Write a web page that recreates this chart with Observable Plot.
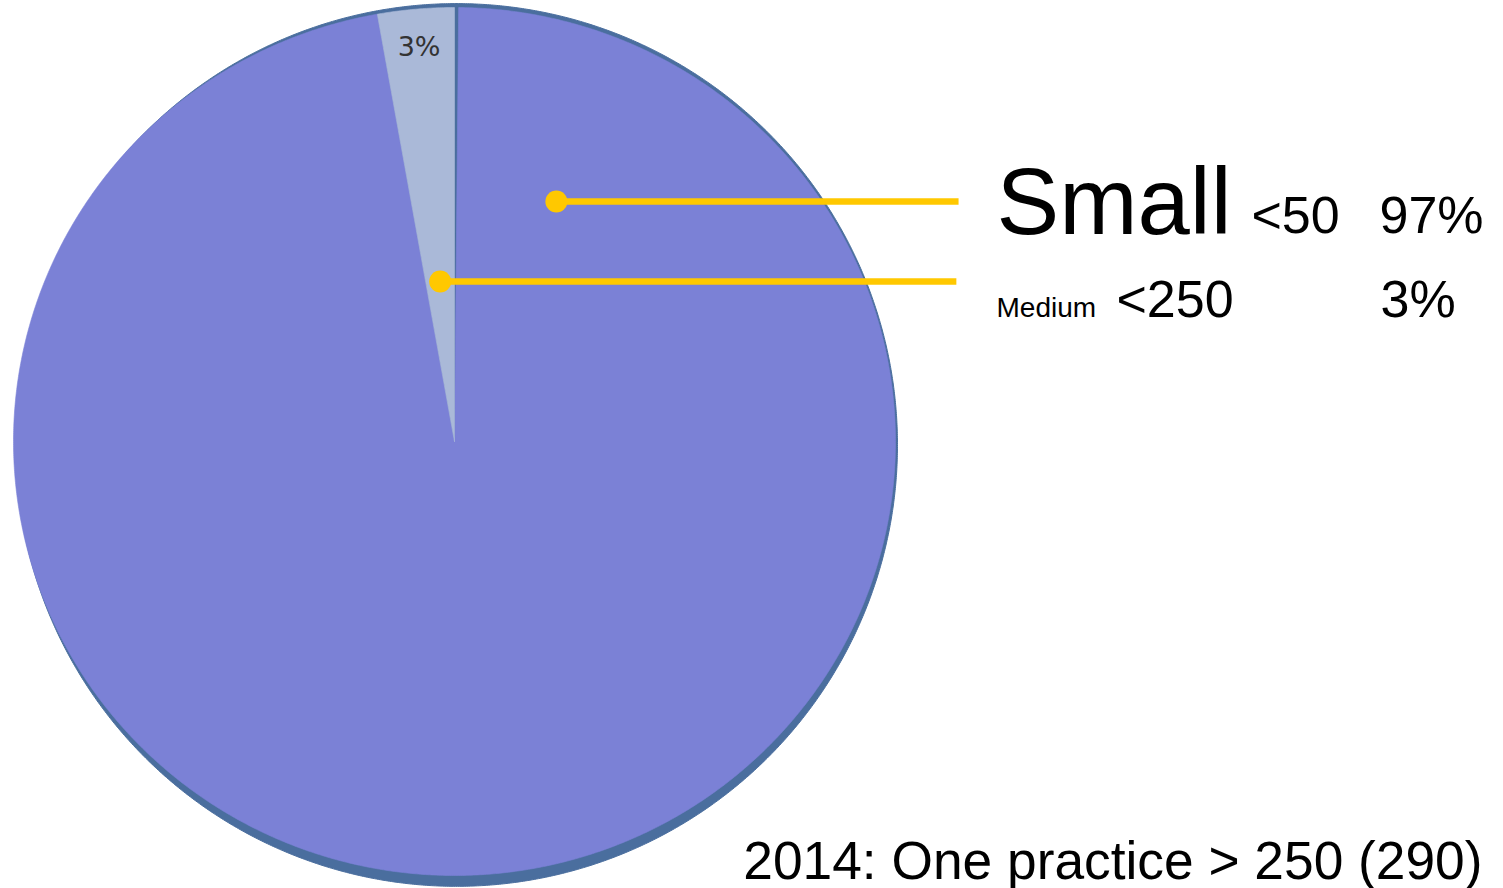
<!DOCTYPE html>
<html>
<head>
<meta charset="utf-8">
<script src="https://cdn.jsdelivr.net/npm/d3@7"></script>
<script src="https://cdn.jsdelivr.net/npm/@observablehq/plot@0.6"></script>
<style>
  html, body { margin: 0; padding: 0; background: #fff; }
  #chart svg { display: block; }
</style>
</head>
<body>
<div id="chart"></div>
<script>
// ---- data ----
const categories = ["Large", "Small", "Medium"];
const shares = [0.15, 97.05, 2.8];          // percent of practices
const sizeLabels = ["", "<50", "<250"];
const pctLabels = ["", "97%", "3%"];
const caption = "2014: One practice > 250 (290)";

const colors = { Large: "#4a6e9e", Small: "#7b81d6", Medium: "#aab9d8" };
const edgeColor = "#4a6e9e";
const leaderColor = "#ffc800";

// ---- pie geometry from data ----
const slices = d3.pie().sort(null).startAngle(0).endAngle(2 * Math.PI)(shares)
  .map((s, i) => ({ ...s, name: categories[i] }));

function arcPoints(a0, a1, r = 1, ox = 0, oy = 0, sx = 1, sy = 1, withCenter = true) {
  const pts = [];
  if (withCenter) pts.push([ox, oy]);
  const n = Math.max(2, Math.ceil((a1 - a0) / 0.005));
  for (let k = 0; k <= n; k++) {
    const a = a0 + (a1 - a0) * k / n;
    pts.push([ox + sx * r * Math.sin(a), oy + sy * r * Math.cos(a)]);
  }
  if (withCenter) pts.push([ox, oy]);
  return pts;
}

const edge = arcPoints(0, 2 * Math.PI, 1, 0.0045, -0.008, 1.0, 1.017, false);

const sliceMarks = slices.map(s =>
  Plot.line(arcPoints(s.startAngle, s.endAngle), {
    x: d => d[0], y: d => d[1],
    fill: colors[s.name], stroke: colors[s.name], strokeWidth: 0.6, curve: "linear"
  })
);

const medium = slices.find(s => s.name === "Medium");
const mMid = (medium.startAngle + medium.endAngle) / 2;
const mediumDot = { x: 0.37 * Math.sin(mMid), y: 0.37 * Math.cos(mMid) };
const mediumInLabel = { x: 0.915 * Math.sin(mMid), y: 0.912 * Math.cos(mMid), t: pctLabels[2] };
const smallDot = { x: 0.231, y: 0.553 };
const leaders = [
  { x1: smallDot.x, y1: smallDot.y, x2: 1.143, y2: smallDot.y },
  { x1: mediumDot.x, y1: mediumDot.y, x2: 1.138, y2: mediumDot.y }
];

const font = "'Liberation Sans', Arial, Helvetica, sans-serif";
const txt = (t, dx, dy, size, anchor = "start") =>
  Plot.text([t], {
    text: d => d, frameAnchor: "top-left", dx, dy,
    textAnchor: anchor, lineAnchor: "bottom",
    fontSize: size, fill: "#000", fontFamily: font
  });

const chart = Plot.plot({
  width: 1503, height: 888,
  margin: 0,
  x: { domain: [-1, 1], range: [13, 895], axis: null },
  y: { domain: [-1, 1], range: [875, 7], axis: null },
  style: { fontFamily: font, background: "#fff" },
  marks: [
    Plot.line(edge, { x: d => d[0], y: d => d[1], fill: edgeColor, stroke: edgeColor, strokeWidth: 1 }),
    ...sliceMarks,
    Plot.text([mediumInLabel], { x: "x", y: "y", text: "t", fontSize: 27, fill: "#333", fontFamily: "'DejaVu Sans', sans-serif" }),
    Plot.link(leaders, { x1: "x1", y1: "y1", x2: "x2", y2: "y2", stroke: leaderColor, strokeWidth: 6.5 }),
    Plot.dot([smallDot, mediumDot], { x: "x", y: "y", r: 11, fill: leaderColor }),
    txt(categories[1], 996, 233, 94),
    txt(sizeLabels[1], 1251, 232, 52),
    txt(pctLabels[1], 1379, 232, 52),
    txt(categories[2], 996, 316, 28),
    txt(sizeLabels[2], 1116, 316, 52),
    txt(pctLabels[2], 1380, 316, 52),
    txt(caption, 1482, 878, 53.3, "end")
  ]
});

document.getElementById("chart").appendChild(chart);
</script>
</body>
</html>
